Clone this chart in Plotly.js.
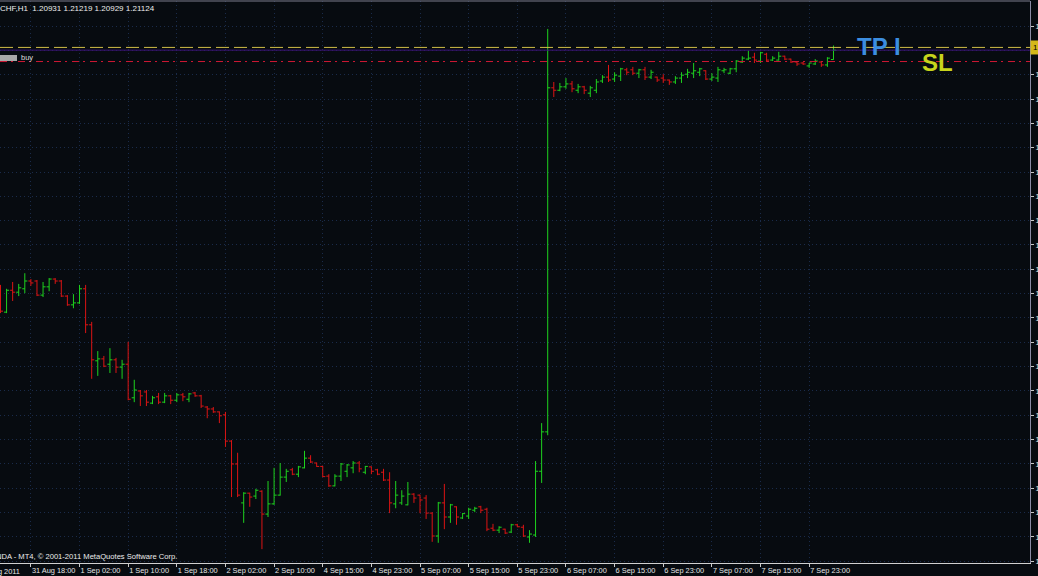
<!DOCTYPE html>
<html>
<head>
<meta charset="utf-8">
<script src="https://cdn.plot.ly/plotly-3.0.1.min.js"></script>
<style>
html,body{margin:0;padding:0;background:#070b10;overflow:hidden;}
#chart{width:1038px;height:576px;}
</style>
</head>
<body>
<div id="chart"></div>
<script>
// EURCHF H1 bars, 31 Aug 2011 13:00 .. 8 Sep 2011 03:00 (broker time)
const barOpen = [
1.1626,1.1574,1.1619,1.1615,1.1622,1.1638,1.1638,1.1609,1.1626,1.1642,
1.1638,1.1607,1.1589,1.1593,1.1622,1.1548,1.1474,1.1478,1.1467,1.1476,
1.1461,1.1467,1.1398,1.1412,1.1410,1.1387,1.1400,1.1389,1.1402,1.1393,
1.1404,1.1395,1.1408,1.1402,1.1379,1.1375,1.1369,1.1363,1.1309,1.1262,
1.1182,1.1202,1.1196,1.1206,1.1159,1.1180,1.1198,1.1235,1.1250,1.1241,
1.1254,1.1274,1.1264,1.1257,1.1237,1.1217,1.1237,1.1247,1.1254,1.1264,
1.1245,1.1256,1.1250,1.1245,1.1229,1.1180,1.1182,1.1178,1.1200,1.1198,
1.1192,1.1161,1.1114,1.1182,1.1153,1.1174,1.1151,1.1155,1.1167,1.1174,
1.1169,1.1130,1.1126,1.1128,1.1122,1.1137,1.1132,1.1112,1.1116,1.1247,
1.1328,1.2035,1.2030,1.2037,1.2043,1.2030,1.2037,1.2024,1.2030,1.2049,
1.2057,1.2053,1.2059,1.2072,1.2072,1.2065,1.2072,1.2057,1.2057,1.2055,
1.2051,1.2047,1.2055,1.2063,1.2065,1.2067,1.2070,1.2053,1.2055,1.2070,
1.2065,1.2074,1.2088,1.2094,1.2098,1.2090,1.2104,1.2092,1.2092,1.2100,
1.2094,1.2088,1.2086,1.2080,1.2084,1.2088,1.2082,1.20931];
const barHigh = [
1.1630,1.1622,1.1636,1.1632,1.1654,1.1642,1.1640,1.1636,1.1644,1.1644,
1.1640,1.1609,1.1611,1.1630,1.1630,1.1554,1.1494,1.1484,1.1500,1.1480,
1.1476,1.1513,1.1435,1.1414,1.1414,1.1402,1.1408,1.1408,1.1404,1.1408,
1.1408,1.1408,1.1410,1.1404,1.1381,1.1379,1.1370,1.1369,1.1311,1.1285,
1.1204,1.1203,1.1211,1.1208,1.1227,1.1254,1.1264,1.1252,1.1254,1.1258,
1.1289,1.1280,1.1265,1.1258,1.1241,1.1241,1.1264,1.1262,1.1268,1.1268,
1.1258,1.1257,1.1252,1.1252,1.1245,1.1227,1.1208,1.1225,1.1202,1.1199,
1.1198,1.1163,1.1184,1.1221,1.1180,1.1175,1.1161,1.1172,1.1174,1.1176,
1.1172,1.1139,1.1134,1.1129,1.1139,1.1139,1.1137,1.1126,1.1268,1.1346,
1.2156,1.2047,1.2045,1.2055,1.2049,1.2043,1.2039,1.2039,1.2053,1.2061,
1.2082,1.2067,1.2076,1.2076,1.2078,1.2074,1.2078,1.2072,1.2058,1.2063,
1.2052,1.2059,1.2067,1.2074,1.2086,1.2076,1.2071,1.2065,1.2078,1.2076,
1.2076,1.2092,1.2100,1.2111,1.2107,1.2109,1.2107,1.2100,1.2109,1.2101,
1.2095,1.2089,1.2088,1.2086,1.2094,1.2090,1.2098,1.21219];
const barLow = [
1.1572,1.1572,1.1597,1.1607,1.1613,1.1628,1.1607,1.1605,1.1617,1.1632,
1.1605,1.1587,1.1582,1.1591,1.1531,1.1437,1.1443,1.1461,1.1449,1.1449,
1.1437,1.1393,1.1389,1.1381,1.1381,1.1385,1.1385,1.1387,1.1385,1.1389,
1.1391,1.1389,1.1400,1.1377,1.1356,1.1367,1.1346,1.1297,1.1194,1.1194,
1.1141,1.1174,1.1190,1.1087,1.1153,1.1178,1.1197,1.1225,1.1239,1.1235,
1.1253,1.1264,1.1256,1.1235,1.1215,1.1216,1.1227,1.1235,1.1243,1.1245,
1.1241,1.1241,1.1239,1.1227,1.1161,1.1171,1.1178,1.1177,1.1182,1.1161,
1.1149,1.1102,1.1100,1.1128,1.1141,1.1137,1.1149,1.1149,1.1163,1.1161,
1.1124,1.1124,1.1120,1.1118,1.1120,1.1132,1.1112,1.1100,1.1112,1.1223,
1.1321,1.2016,1.2028,1.2033,1.2026,1.2024,1.2022,1.2016,1.2024,1.2045,
1.2047,1.2047,1.2049,1.2061,1.2061,1.2055,1.2051,1.2053,1.2047,1.2045,
1.2041,1.2043,1.2045,1.2055,1.2055,1.2059,1.2051,1.2049,1.2047,1.2065,
1.2063,1.2067,1.2086,1.2092,1.2086,1.2086,1.2088,1.2090,1.2091,1.2092,
1.2086,1.2080,1.2082,1.2076,1.2082,1.2078,1.2078,1.20929];
const barClose = [
1.1576,1.1619,1.1615,1.1624,1.1638,1.1634,1.1609,1.1626,1.1642,1.1638,
1.1607,1.1589,1.1593,1.1622,1.1548,1.1476,1.1478,1.1463,1.1476,1.1461,
1.1467,1.1395,1.1414,1.1402,1.1389,1.1398,1.1389,1.1402,1.1393,1.1404,
1.1400,1.1406,1.1402,1.1381,1.1375,1.1369,1.1361,1.1309,1.1262,1.1198,
1.1202,1.1194,1.1208,1.1159,1.1180,1.1198,1.1235,1.1247,1.1241,1.1256,
1.1274,1.1266,1.1257,1.1236,1.1217,1.1237,1.1262,1.1260,1.1264,1.1252,
1.1257,1.1247,1.1241,1.1229,1.1182,1.1198,1.1196,1.1200,1.1192,1.1188,
1.1161,1.1114,1.1182,1.1153,1.1178,1.1153,1.1160,1.1169,1.1171,1.1167,
1.1128,1.1126,1.1132,1.1120,1.1137,1.1133,1.1114,1.1118,1.1247,1.1328,
1.2035,1.2030,1.2037,1.2043,1.2033,1.2037,1.2030,1.2035,1.2047,1.2057,
1.2051,1.2061,1.2074,1.2067,1.2065,1.2072,1.2057,1.2067,1.2051,1.2051,
1.2047,1.2055,1.2061,1.2067,1.2070,1.2074,1.2053,1.2057,1.2072,1.2072,
1.2074,1.2090,1.2096,1.2096,1.2092,1.2107,1.2092,1.2096,1.2100,1.2094,
1.2088,1.2084,1.2084,1.2086,1.2090,1.2082,1.2096,1.21124];

// time axis labels (every 8th bar)
const timeTickBars = [5,13,21,29,37,45,53,61,69,77,85,93,101,109,117,125,133];
const timeTickText = ["31 Aug 18:00","1 Sep 02:00","1 Sep 10:00","1 Sep 18:00","2 Sep 02:00","2 Sep 10:00",
  "4 Sep 15:00","4 Sep 23:00","5 Sep 07:00","5 Sep 15:00","5 Sep 23:00","6 Sep 07:00","6 Sep 15:00",
  "6 Sep 23:00","7 Sep 07:00","7 Sep 15:00","7 Sep 23:00"];
// price scale ticks
const priceTicks = [1.2162,1.2112,1.2062,1.2012,1.1962,1.1912,1.1862,1.1812,1.1762,1.1712,1.1662,1.1612,
  1.1562,1.1512,1.1462,1.1412,1.1362,1.1312,1.1262,1.1212,1.1162,1.1112,1.1062];
// order / price lines
const tpLevel = 1.2118;
const bidLevel = 1.21124;
const orderLevel = 1.2089;
const headerText = "EURCHF,H1\u00a0\u00a01.20931 1.21219 1.20929 1.21124";

const barIndex = barOpen.map((_, i) => i);

const W = 1030, TOP = 1, BOT = 563;
const px = x => x / W;
const py = y => (BOT - y) / (BOT - TOP);
const FONT = 'Liberation Sans, Arial, sans-serif';

const trace = {
  type: 'ohlc',
  x: barIndex, open: barOpen, high: barHigh, low: barLow, close: barClose,
  increasing: {line: {color: '#1ed21e', width: 1}},
  decreasing: {line: {color: '#dc1414', width: 1}},
  tickwidth: 0.42,
  hoverinfo: 'skip',
  showlegend: false
};

const GRID = '#1a2b4a';
const layout = {
  width: 1038, height: 576,
  margin: {l: 0, r: 8, t: TOP, b: 576 - BOT, pad: 0},
  paper_bgcolor: '#070b10', plot_bgcolor: '#070b10',
  showlegend: false,
  xaxis: {
    range: [-0.08, 169.32],
    tickmode: 'array', tickvals: timeTickBars, ticktext: timeTickText,
    tickangle: 0,
    ticks: 'outside', ticklen: 3, tickcolor: '#c8c8c8',
    ticklabelposition: 'outside right',
    tickfont: {family: FONT, size: 7.4, color: '#e6e6e6'},
    showline: true, linecolor: '#d0d0d0', linewidth: 1,
    showgrid: true, gridcolor: GRID, griddash: '1px,3px', gridwidth: 1,
    zeroline: false, fixedrange: true,
    rangeslider: {visible: false}
  },
  yaxis: {
    side: 'right',
    range: [1.10585, 1.22134],
    tickmode: 'array', tickvals: priceTicks, tickformat: '.4f',
    ticks: 'outside', ticklen: 3, tickcolor: '#c8c8c8',
    tickfont: {family: FONT, size: 7.5, color: '#e6e6e6'},
    showline: true, linecolor: '#8a8aa4', linewidth: 1,
    showgrid: true, gridcolor: GRID, griddash: '1px,3px', gridwidth: 1,
    zeroline: false, fixedrange: true
  },
  shapes: [
    {type: 'line', xref: 'paper', yref: 'paper', x0: 0, x1: 1, y0: 1, y1: 1,
     line: {color: '#7c7c8c', width: 1}},
    {type: 'line', xref: 'paper', yref: 'y', x0: 0, x1: 1, y0: bidLevel, y1: bidLevel,
     line: {color: '#3c1478', width: 1}},
    {type: 'line', xref: 'paper', yref: 'y', x0: 0, x1: 1, y0: tpLevel, y1: tpLevel,
     line: {color: '#d0bc48', width: 1, dash: '13px,5px'}},
    {type: 'line', xref: 'paper', yref: 'y', x0: 0, x1: 1, y0: orderLevel, y1: orderLevel,
     line: {color: '#d01834', width: 1, dash: '7px,4px,2px,5px'}},
    {type: 'rect', xref: 'paper', yref: 'paper', x0: px(0), x1: px(17), y0: py(61), y1: py(55),
     fillcolor: '#a8a8a8', line: {width: 0}}
  ],
  annotations: [
    {xref: 'paper', yref: 'paper', x: px(-19.5), y: py(8), xanchor: 'left', yanchor: 'middle',
     text: headerText, showarrow: false, font: {family: FONT, size: 8, color: '#ececec'}},
    {xref: 'paper', yref: 'paper', x: px(-17), y: py(556), xanchor: 'left', yanchor: 'middle',
     text: 'OANDA - MT4, © 2001-2011 MetaQuotes Software Corp.', showarrow: false,
     font: {family: FONT, size: 7.6, color: '#ececec'}},
    {xref: 'paper', yref: 'paper', x: px(-23.5), y: py(571), xanchor: 'left', yanchor: 'middle',
     text: '31 Aug 2011', showarrow: false, font: {family: FONT, size: 7.4, color: '#e6e6e6'}},
    {xref: 'paper', yref: 'paper', x: px(19), y: py(58), xanchor: 'left', yanchor: 'middle',
     text: 'buy', showarrow: false, font: {family: FONT, size: 7.5, color: '#dcdcdc'}},
    {xref: 'paper', yref: 'paper', x: px(855), y: py(47), xanchor: 'left', yanchor: 'middle',
     text: '<b>TP I</b>', showarrow: false, font: {family: FONT, size: 24, color: '#3c8ee0'}},
    {xref: 'paper', yref: 'paper', x: px(920), y: py(62), xanchor: 'left', yanchor: 'middle',
     text: '<b>SL</b>', showarrow: false, font: {family: FONT, size: 24, color: '#c8d41c'}},
    {xref: 'paper', yref: 'y', x: px(1030), y: tpLevel, xanchor: 'left', yanchor: 'middle',
     text: '1.2118', showarrow: false, bgcolor: '#d4b818', borderpad: 2,
     font: {family: FONT, size: 8, color: '#000000'}}
  ]
};

Plotly.newPlot('chart', [trace], layout, {staticPlot: true, displayModeBar: false});
</script>
</body>
</html>
